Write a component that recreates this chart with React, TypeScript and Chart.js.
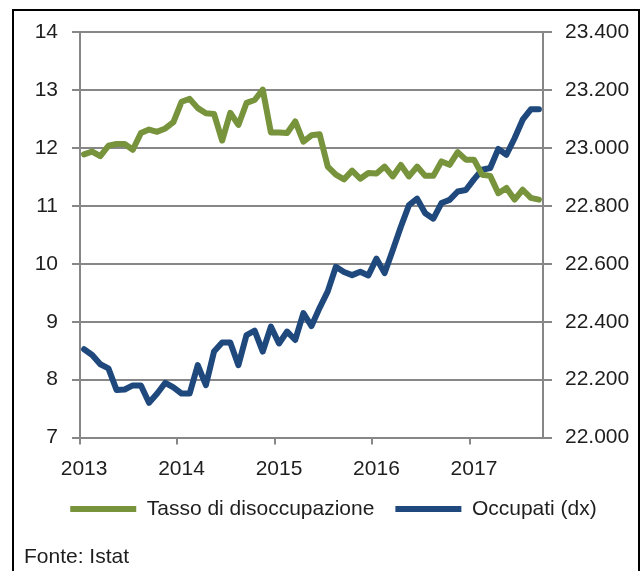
import React, { useEffect, useRef } from 'react';
import { Chart, registerables } from 'chart.js';

Chart.register(...registerables);

// Monthly categories, Jan 2013 – Sep 2017
const months = [
  '2013-01', '2013-02', '2013-03', '2013-04', '2013-05', '2013-06', '2013-07', '2013-08', '2013-09', '2013-10', '2013-11', '2013-12',
  '2014-01', '2014-02', '2014-03', '2014-04', '2014-05', '2014-06', '2014-07', '2014-08', '2014-09', '2014-10', '2014-11', '2014-12',
  '2015-01', '2015-02', '2015-03', '2015-04', '2015-05', '2015-06', '2015-07', '2015-08', '2015-09', '2015-10', '2015-11', '2015-12',
  '2016-01', '2016-02', '2016-03', '2016-04', '2016-05', '2016-06', '2016-07', '2016-08', '2016-09', '2016-10', '2016-11', '2016-12',
  '2017-01', '2017-02', '2017-03', '2017-04', '2017-05', '2017-06', '2017-07', '2017-08', '2017-09',
];

// Tasso di disoccupazione (%), left axis
const tassoDisoccupazione = [
  11.89, 11.94, 11.86, 12.04, 12.07, 12.07, 11.97, 12.26, 12.32, 12.28, 12.34, 12.45,
  12.80, 12.85, 12.69, 12.60, 12.59, 12.13, 12.61, 12.40, 12.78, 12.83, 13.01, 12.27,
  12.27, 12.26, 12.46, 12.11, 12.22, 12.24, 11.68, 11.54, 11.46, 11.61, 11.47, 11.57,
  11.56, 11.68, 11.51, 11.71, 11.51, 11.68, 11.52, 11.52, 11.77, 11.71, 11.93, 11.80,
  11.80, 11.54, 11.52, 11.22, 11.31, 11.11, 11.28, 11.14, 11.11,
];

// Occupati (migliaia), right axis
const occupati = [
  22305, 22285, 22253, 22239, 22164, 22166, 22180, 22180, 22120, 22152, 22189, 22173,
  22152, 22152, 22250, 22181, 22297, 22328, 22328, 22250, 22354, 22369, 22297, 22383,
  22325, 22366, 22337, 22430, 22385, 22448, 22505, 22590, 22572, 22561, 22573, 22560,
  22618, 22568, 22647, 22728, 22803, 22825, 22775, 22756, 22810, 22821, 22850, 22855,
  22892, 22925, 22931, 22997, 22977, 23034, 23098, 23134, 23134,
];

const seriesNames = ['Tasso di disoccupazione', 'Occupati (dx)'];
const sourceNote = 'Fonte: Istat';

const GREEN = '#77933C';
const BLUE = '#1F497D';
const GRID = '#878787';
const TEXT = '#1e1e1e';
const FONT = "'Liberation Sans', Arial, sans-serif";
const FS = 21;

export default function App() {
  const canvasRef = useRef<HTMLCanvasElement | null>(null);

  useEffect(() => {
    if (!canvasRef.current) return;
    const chart = new Chart(canvasRef.current, {
      type: 'line',
      data: {
        labels: months,
        datasets: [
          {
            label: seriesNames[0],
            data: tassoDisoccupazione,
            borderColor: GREEN,
            backgroundColor: GREEN,
            borderWidth: 6,
            pointRadius: 0,
            pointStyle: 'line',
            tension: 0,
            borderJoinStyle: 'round',
            borderCapStyle: 'round',
            yAxisID: 'y',
          },
          {
            label: seriesNames[1],
            data: occupati,
            borderColor: BLUE,
            backgroundColor: BLUE,
            borderWidth: 6,
            pointRadius: 0,
            pointStyle: 'line',
            tension: 0,
            borderJoinStyle: 'round',
            borderCapStyle: 'round',
            yAxisID: 'y1',
          },
        ],
      },
      options: {
        responsive: false,
        animation: false,
        devicePixelRatio: 1,
        layout: { padding: { top: 32.3, left: 24, right: 0, bottom: 1.3 } },
        font: { family: FONT, size: FS },
        color: TEXT,
        scales: {
          x: {
            type: 'category',
            offset: true,
            grid: {
              offset: true,
              drawOnChartArea: false,
              tickLength: 7,
              lineWidth: 2,
              color: (ctx: any) => (ctx.index % 12 === 0 ? GRID : 'rgba(0,0,0,0)'),
            },
            border: { display: true, color: GRID, width: 2 },
            ticks: {
              autoSkip: false,
              maxRotation: 0,
              minRotation: 0,
              padding: 12,
              color: TEXT,
              font: { family: FONT, size: FS },
              callback: (_v: any, i: number) => (i % 12 === 0 ? months[i].slice(0, 4) : ''),
            },
            afterFit: (s: any) => { s.height = 40; },
          },
          y: {
            position: 'left',
            min: 7,
            max: 14,
            ticks: {
              stepSize: 1,
              padding: 14,
              color: TEXT,
              font: { family: FONT, size: FS },
            },
            grid: { color: GRID, lineWidth: 2, tickLength: 8 },
            border: { display: true, color: GRID, width: 2 },
            afterFit: (s: any) => { s.width = 56; },
          },
          y1: {
            position: 'right',
            min: 22000,
            max: 23400,
            ticks: {
              stepSize: 200,
              padding: 13,
              color: TEXT,
              font: { family: FONT, size: FS },
              callback: (v: any) => (Number(v) / 1000).toFixed(3),
            },
            grid: { drawOnChartArea: false, color: GRID, lineWidth: 2, tickLength: 9 },
            border: { display: true, color: GRID, width: 2 },
            afterFit: (s: any) => { s.width = 100; },
          },
        },
        plugins: {
          legend: {
            position: 'bottom',
            align: 'center',
            labels: {
              usePointStyle: true,
              pointStyleWidth: 66,
              boxHeight: 6,
              padding: 21,
              color: TEXT,
              font: { family: FONT, size: FS },
            },
          },
          subtitle: {
            display: true,
            text: sourceNote,
            position: 'bottom',
            align: 'start',
            color: TEXT,
            font: { family: FONT, size: FS, weight: 'normal' },
            padding: { top: 15, bottom: 0 },
          },
          tooltip: { enabled: false },
        },
      },
    });
    return () => chart.destroy();
  }, []);

  return (
    <div style={{ position: 'fixed', left: 0, top: 0, width: 643, height: 571, overflow: 'hidden', background: '#fff' }}>
      <canvas ref={canvasRef} width={643} height={571} style={{ position: 'absolute', left: 0, top: 0 }} />
      <div
        style={{
          position: 'absolute',
          left: 12,
          top: 9,
          width: 628,
          height: 620,
          boxSizing: 'border-box',
          border: '2px solid #000',
          pointerEvents: 'none',
        }}
      />
    </div>
  );
}
